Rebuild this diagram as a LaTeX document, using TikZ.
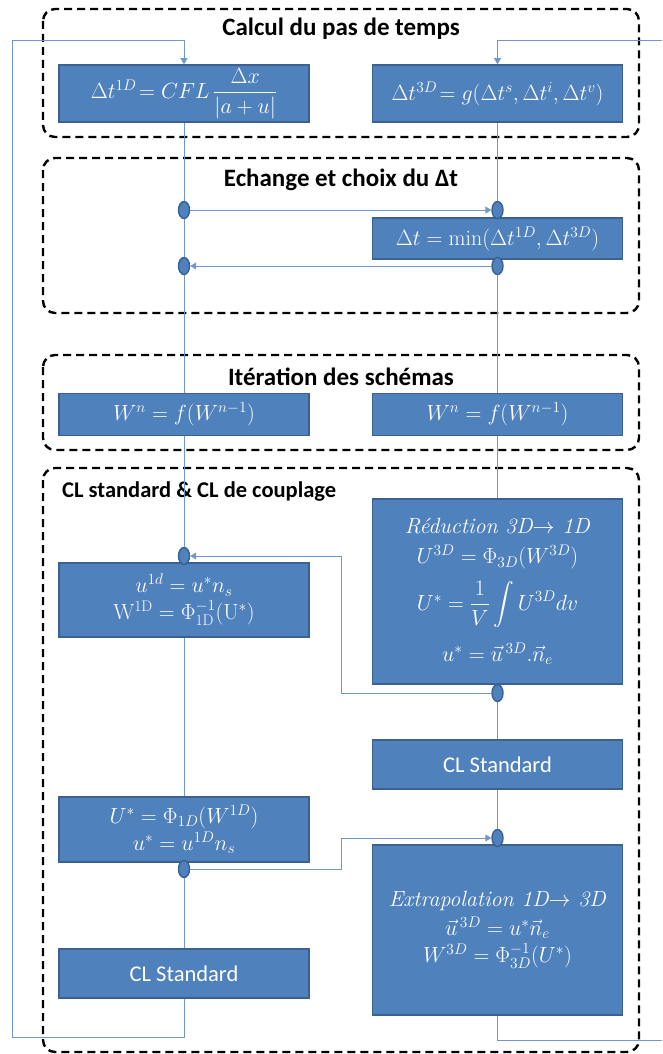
\RequirePackage{fix-cm}
\documentclass[tikz,border=0pt]{standalone}
\usepackage{amsmath}
\usepackage{fontspec}
\newfontfamily\calibri{Carlito}
\usepackage{xcolor}
\usepackage{tikz}
\usetikzlibrary{arrows.meta,positioning,shapes.geometric}
\definecolor{boxblue}{HTML}{4F81BD}
\definecolor{boxedge}{HTML}{3A6190}
\definecolor{linkblue}{HTML}{6F97CB}

\begin{document}
\begin{tikzpicture}[x=1pt, y=-1pt, font=\fontsize{22}{27}\selectfont, every node/.style={inner sep=2pt}]
        \tikzset{
            blk/.style={draw=boxedge, line width=1.6pt, fill=boxblue, text=white, align=center, minimum width=250pt, inner sep=0pt},
            dot/.style={ellipse, draw=boxedge, line width=1.4pt, fill=boxblue, minimum width=11pt, minimum height=17pt, inner sep=0pt},
            grp/.style={draw=black, line width=2.4pt, dash pattern=on 8pt off 5pt, rounded corners=12pt},
            ttl/.style={font=\calibri\bfseries\fontsize{25}{30}\selectfont},
            lbl/.style={font=\calibri\fontsize{22.5}{27}\selectfont},
            ln/.style={draw=linkblue, line width=0.9pt},
            arr/.style={ln, -{Triangle[width=7pt,length=6pt]}}
        }
        \useasboundingbox (0,0) rectangle (662,1054);
        % groups
        \draw[grp] (43,9) rectangle (639,137);
        \draw[grp] (43,158) rectangle (639,313);
        \draw[grp] (43,355) rectangle (639,450);
        \draw[grp] (43,468) rectangle (639,1052);
        \node[ttl] (t1) at (341,29) {Calcul du pas de temps};
        \node[ttl] (t2) at (341,180) {Echange et choix du Δt};
        \node[ttl] (t3) at (341,377) {Itération des schémas};
        \node[ttl, font=\calibri\bfseries\fontsize{22.5}{27}\selectfont, anchor=west] (t4) at (60,492) {CL standard \& CL de couplage};
        % blocks
        \node[blk, minimum height=57pt] (dt1) at (184,93.5) {$\Delta t^{1D}\!= CFL\,\dfrac{\Delta x}{|a+u|}$};
        \node[blk, minimum height=57pt] (dt3) at (497.5,93.5) {$\Delta t^{3D}\!= g(\Delta t^{s},\Delta t^{i},\Delta t^{v})$};
        \node[blk, minimum height=41pt] (dtm) at (497.5,238.5) {$\Delta t=\min(\Delta t^{1D},\Delta t^{3D})$};
        \node[blk, minimum height=42pt] (wl) at (184,414.5) {$W^{n}=f(W^{n-1})$};
        \node[blk, minimum height=42pt] (wr) at (497.5,414.5) {$W^{n}=f(W^{n-1})$};
        \node[blk, minimum height=74pt] (u1d) at (184,600) {$u^{1d}=u^{*}n_{s}$\\ $\mathrm{W}^{\mathrm{1D}}=\Phi_{\mathrm{1D}}^{-1}(\mathrm{U}^{*})$};
        \node[blk, minimum height=185pt] (red) at (497.5,591.5) {\textit{Réduction 3D$\rightarrow$ 1D}\\[3pt] $U^{3D}=\Phi_{3D}(W^{3D})$\\[11pt] $U^{*}=\dfrac{1}{V}\displaystyle\int U^{3D}dv$\\[14pt] $u^{*}=\vec{u}^{\,3D}.\vec{n}_{e}$};
        \node[lbl, blk, minimum height=49pt] (clsr) at (497.5,764.5) {CL Standard};
        \node[blk, minimum height=65pt] (ust) at (184,829.5) {$U^{*}=\Phi_{1D}(W^{1D})$\\ $u^{*}=u^{1D}n_{s}$};
        \node[blk, minimum height=170pt] (ext) at (497.5,930) {\textit{Extrapolation 1D$\rightarrow$ 3D}\\[2pt] $\vec{u}^{\,3D}=u^{*}\vec{n}_{e}$\\ $W^{3D}=\Phi_{3D}^{-1}(U^{*})$};
        \node[lbl, blk, minimum height=49pt] (clsl) at (184,973.5) {CL Standard};
        % exchange points
        \node[dot] (c1) at (184,210) {};
        \node[dot] (c2) at (497.5,210) {};
        \node[dot] (c3) at (497.5,266) {};
        \node[dot] (c4) at (184,266) {};
        \node[dot] (c5) at (184,556) {};
        \node[dot] (c6) at (497.5,693) {};
        \node[dot] (c7) at (184,869) {};
        \node[dot] (c8) at (497.5,838) {};
        \coordinate (lb) at (12,1037);
        \coordinate (lt) at (12,40);
        \coordinate (rt) at (662,40);
        \coordinate (rb) at (662,1040);
        % 1D side
        \draw[ln] (dt1) -- (c1);
        \draw[ln] (c1) -- (c4);
        \draw[ln] (c4) -- (wl);
        \draw[ln] (wl) -- (c5);
        \draw[ln] (u1d) -- (ust);
        \draw[ln] (c7) -- (clsl);
        \draw[arr] (clsl.south) |- (lb) -- (lt) -| (dt1.north);
        % 3D side
        \draw[ln] (dt3) -- (c2);
        \draw[ln] (c3) -- (wr);
        \draw[ln] (wr) -- (red);
        \draw[ln] (c6) -- (clsr);
        \draw[ln] (clsr) -- (c8);
        \draw[ln] (ext.south) |- (rb);
        \draw[arr] (rt) -| (dt3.north);
        % exchanges
        \draw[arr] (c1) -- (c2);
        \draw[arr] (c3) -- (c4);
        \draw[arr] (c6.west) -- ++(-150,0) |- (c5.east);
        \draw[arr] (c7.east) -- ++(151,0) |- (c8.west);
    \end{tikzpicture}
\end{document}
